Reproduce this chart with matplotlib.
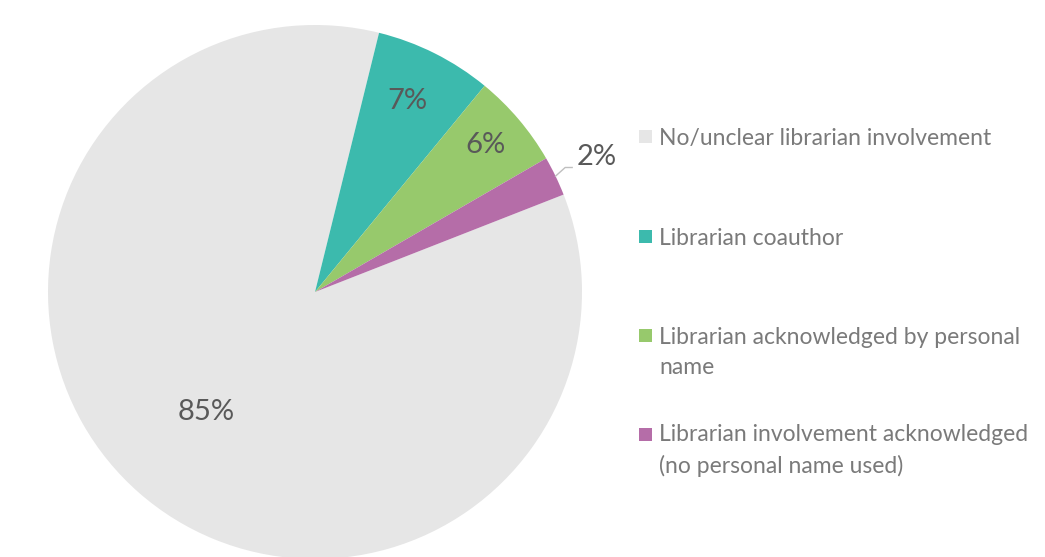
import numpy as np
import matplotlib
matplotlib.use("Agg")
import matplotlib.pyplot as plt
from matplotlib.patches import Rectangle

categories = [
    "No/unclear librarian involvement",
    "Librarian coauthor",
    "Librarian acknowledged by personal\nname",
    "Librarian involvement acknowledged\n(no personal name used)",
]
values = [84.8, 7.1, 5.7, 2.4]
pct_labels = ["85%", "7%", "6%", "2%"]
colors = ["#E6E6E6", "#3CBAAD", "#97C96C", "#B56DA8"]

W, H = 1045, 557
plt.rcParams['font.family'] = ['Lato', 'DejaVu Sans']
fig = plt.figure(figsize=(W / 100, H / 100), dpi=100)
ax = fig.add_axes([0, 0, 1, 1])

cx, cy, R = 315, H - 292, 267
wedges, _ = ax.pie(values, colors=colors, startangle=21.4, counterclock=False,
                   center=(cx, cy), radius=R, frame=True,
                   wedgeprops=dict(linewidth=0))
ax.set_xlim(0, W)
ax.set_ylim(0, H)
ax.set_aspect('equal')
ax.axis('off')

label_color = "#595959"
pfs = 21
dists = [0.60, 0.80, 0.85, None]
for w, lab, d in zip(wedges, pct_labels, dists):
    mid = np.deg2rad((w.theta1 + w.theta2) / 2)
    if d is not None:
        ax.text(cx + d * R * np.cos(mid) - 3, cy + d * R * np.sin(mid), lab,
                ha='center', va='center', fontsize=pfs, color=label_color)
    else:
        x0, y0 = cx + R * np.cos(mid), cy + R * np.sin(mid)
        x1, y1 = cx + 1.04 * R * np.cos(mid), cy + 1.04 * R * np.sin(mid) + 4
        ax.plot([x0, x1, x1 + 7], [y0, y1, y1], color="#BFBFBF", lw=1)
        ax.text(x1 + 11, y1 + 10, lab, ha='left', va='center',
                fontsize=pfs, color=label_color)

legend_color = "#7A7A7A"
base_y = [145, 245, 344, 443]
line_gap = 30
for cat, col, by in zip(categories, colors, base_y):
    ax.add_patch(Rectangle((639, H - by + 2), 13, 13, color=col, lw=0))
    nlines = cat.count("\n")
    ax.text(659, H - by - nlines * line_gap, cat, ha='left', va='baseline',
            fontsize=16.5, color=legend_color, linespacing=1.55)

fig.savefig("out.png", dpi=100)
